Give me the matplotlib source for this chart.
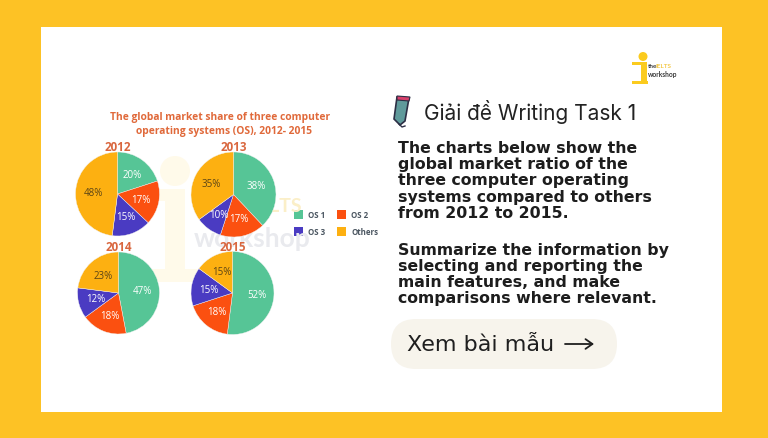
#!/usr/bin/env python3
"""Market share pies on the IELTS workshop card."""

import matplotlib
matplotlib.use("Agg")
import matplotlib.pyplot as plt
from matplotlib.patches import Circle, FancyBboxPatch, Polygon, Rectangle

W, H = 768, 439

years = ["2012", "2013", "2014", "2015"]
os1 = [20, 38, 47, 52]
os2 = [17, 17, 18, 18]
os3 = [15, 10, 12, 15]
others = [48, 35, 23, 15]
legend_labels = ["OS 1", "OS 2", "OS 3", "Others"]
colors = ["#56C596", "#FB5010", "#4A3BC2", "#FDB011"]
label_colors = ["white", "white", "white", "#5A4416"]

chart_title = "The global market share of three computer\n   operating systems (OS), 2012- 2015"
heading = "Giải đề Writing Task 1"
task_text = (
    "The charts below show the\nglobal market ratio of the\n"
    "three computer operating\nsystems compared to others\nfrom 2012 to 2015."
)
summary_text = (
    "Summarize the information by\nselecting and reporting the\n"
    "main features, and make\ncomparisons where relevant."
)
button_text = "Xem bài mẫu"

# pie centre x, centre y, radius in pixels
pie_boxes = [(117.5, 195, 42), (233.5, 195.5, 42.5), (118.5, 294, 41), (232.5, 294, 41.5)]

fig = plt.figure(figsize=(W / 100, H / 100), dpi=100, facecolor="#FDC225")
bg = fig.add_axes([0, 0, 1, 1])
bg.set_xlim(0, W)
bg.set_ylim(H, 0)
bg.axis("off")

# white card
bg.add_patch(Rectangle((40.5, 28), 681.5, 385, fc="white", ec="none"))

# faint watermark behind the pies
wm = "#FFFAEA"
bg.add_patch(Circle((175, 172), 15, fc=wm, ec="none"))
bg.add_patch(Rectangle((152, 190), 31, 12, fc=wm, ec="none"))
bg.add_patch(Rectangle((165, 190), 20, 90, fc=wm, ec="none"))
bg.add_patch(Rectangle((152, 270), 58, 13, fc=wm, ec="none"))
bg.text(195, 207, "the", fontsize=14, fontweight="bold", color="#F6F2E4", family="Lato", va="center")
bg.text(252, 207, "IELTS", fontsize=14, fontweight="bold", color="#FBEFC8", family="Lato", va="center")
bg.text(194, 239, "workshop", fontsize=19, fontweight="bold", color="#E9EAEE", family="Lato", va="center")

bg.text(220.5, 124.5, chart_title, ha="center", va="center", fontsize=7.4, fontweight="bold",
        color="#E0693A", family="Open Sans", linespacing=1.44)

for i, (cx, cy, r) in enumerate(pie_boxes):
    ax = fig.add_axes([(cx - r) / W, 1 - (cy + r) / H, 2 * r / W, 2 * r / H])
    ax.patch.set_alpha(0)
    values = [os1[i], os2[i], os3[i], others[i]]
    wedges, texts, autotexts = ax.pie(
        values, colors=colors, startangle=90, counterclock=False, radius=1,
        autopct="%d%%", pctdistance=0.58,
        wedgeprops={"linewidth": 0.3, "edgecolor": "#F2F2F2"},
        textprops={"fontsize": 7.0, "family": "Open Sans"},
    )
    for t, c in zip(autotexts, label_colors):
        t.set_color(c)
    ax.set_xlim(-1, 1)
    ax.set_ylim(-1, 1)
    bg.text(cx, cy - r - 5, years[i], ha="center", va="center", fontsize=8.4,
            fontweight="bold", color="#D9673F", family="Open Sans")

# legend
legend_pos = [(294, 211), (337, 211), (294, 228), (337, 228)]
for (x, y), lab, col in zip(legend_pos, legend_labels, colors):
    bg.add_patch(Rectangle((x, y), 9, 9, fc=col, ec="none"))
    bg.text(x + 14, y + 4.5, lab, va="center", fontsize=5.7, fontweight="bold",
            color="#4A5560", family="Open Sans")

# pencil icon
bg.add_patch(Polygon([(397, 98), (409, 99), (405, 122), (400, 126), (394, 120)],
                     fc="#5F9A9B", ec="#2C2F45", lw=1.2, closed=True, zorder=3))
bg.add_patch(Polygon([(397, 97), (410, 98), (409, 102), (397, 101)],
                     fc="#D8416C", ec="#2C2F45", lw=0.8, closed=True, zorder=4))
bg.plot([399, 402, 405], [125, 128, 127], color="#2C2F45", lw=1, zorder=3)

bg.text(424, 112.5, heading, va="center", fontsize=15, color="#222222", family="Inter")

bg.text(398, 181, task_text, va="center", fontsize=11.3, fontweight="bold", color="#1D1D1D",
        family="DejaVu Sans", linespacing=1.09)
bg.text(398, 274.5, summary_text, va="center", fontsize=11.3, fontweight="bold", color="#1D1D1D",
        family="DejaVu Sans", linespacing=1.09)

# button
bg.add_patch(FancyBboxPatch((391, 320), 226, 50, boxstyle="round,pad=0,rounding_size=25",
                            fc="#F7F4EC", ec="none"))
bg.text(407, 345, button_text, va="center", fontsize=16, color="#1F1F1F", family="DejaVu Sans")
bg.annotate("", xy=(594, 345), xytext=(565, 345),
            arrowprops={"arrowstyle": "->,head_length=0.5,head_width=0.35", "lw": 1.3,
                        "color": "#1F1F1F", "shrinkA": 0, "shrinkB": 0})

# logo
bg.add_patch(Circle((643, 57.5), 4.5, fc="#FBCB1E", ec="none"))
bg.add_patch(Rectangle((632, 63), 15, 3, fc="#FBCB1E", ec="none"))
bg.add_patch(Rectangle((641, 63), 6, 20, fc="#FBCB1E", ec="none"))
bg.add_patch(Rectangle((632, 81.5), 15.5, 3, fc="#FBCB1E", ec="none"))
bg.text(647.5, 67, "the", fontsize=4.6, fontweight="bold", color="#3C3C3C", family="Lato", va="center")
bg.text(656, 67, "IELTS", fontsize=4.6, fontweight="bold", color="#F3C94A", family="Lato", va="center")
bg.text(647.5, 74, "workshop", fontsize=4.8, fontweight="bold", color="#3C3C3C", family="Lato", va="center")

fig.savefig("out.png", dpi=100, facecolor=fig.get_facecolor())
